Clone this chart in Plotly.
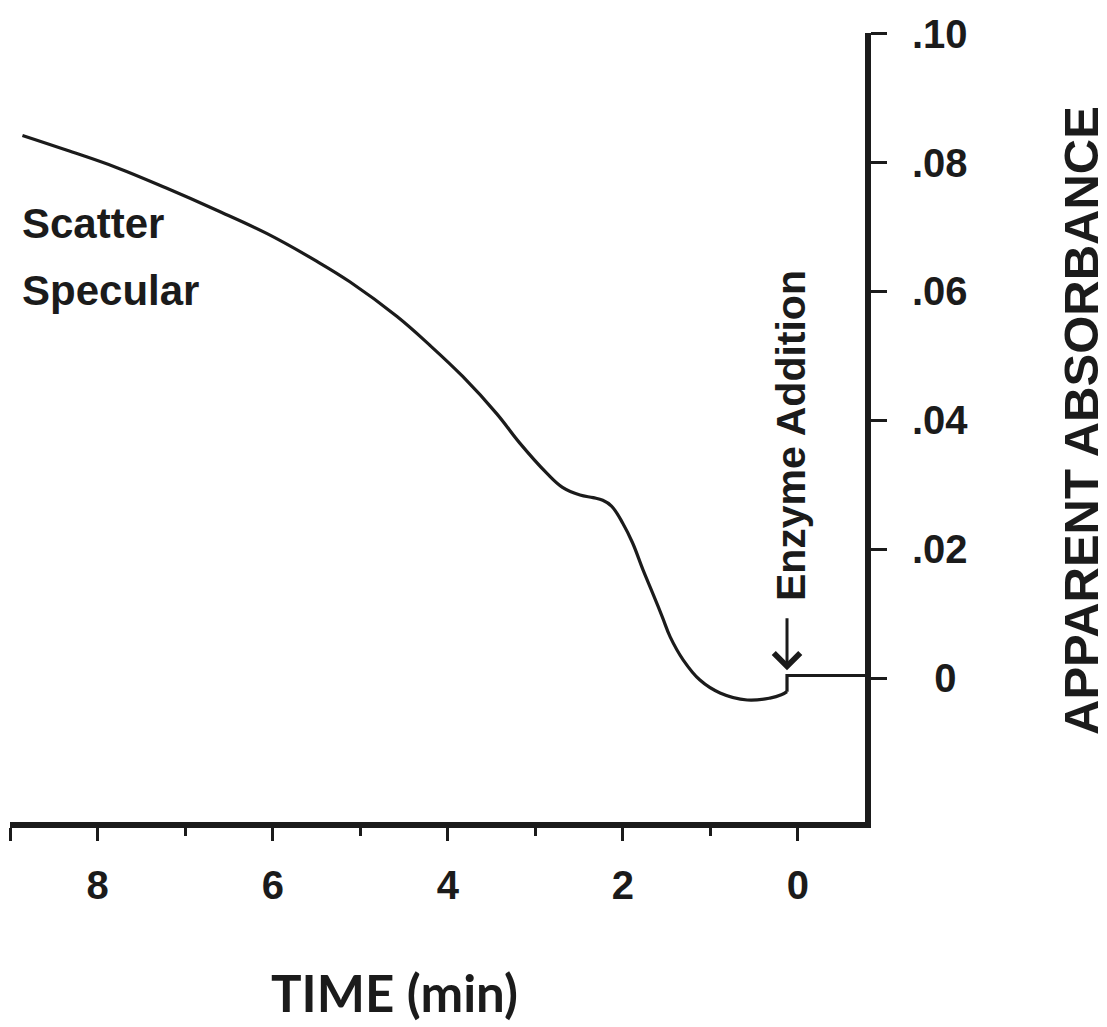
import plotly.graph_objects as go

# ---- data ----
time_min = [8.86, 8.35, 7.78, 7.21, 6.64, 6.07, 5.50, 5.12, 4.58, 4.21, 3.83,
            3.44, 3.18, 2.87, 2.69, 2.49, 2.34, 2.23, 2.13, 2.00, 1.89, 1.77,
            1.66, 1.55, 1.46, 1.31, 1.12, 0.89, 0.58, 0.32, 0.19, 0.125]
absorbance = [0.0842, 0.0819, 0.0792, 0.0760, 0.0726, 0.0690, 0.0647, 0.0615, 0.0561,
              0.0517, 0.0468, 0.0410, 0.0365, 0.0318, 0.0296, 0.0284, 0.0280, 0.0276,
              0.0267, 0.0240, 0.0210, 0.0168, 0.0132, 0.0095, 0.0064, 0.0028,
              -0.0003, -0.0023, -0.0034, -0.0031, -0.0026, -0.0021]
after_time = [0.125, 0.125, -0.80]
after_abs = [-0.0021, 0.0004, 0.0004]

x_major_vals = [0, 2, 4, 6, 8, 9]
x_major_text = ["0", "2", "4", "6", "8", ""]
x_minor_vals = [1, 3, 5, 7]
y_tick_vals = [0, 0.02, 0.04, 0.06, 0.08, 0.10]
y_tick_text = ["\u00a0\u00a00", ".02", ".04", ".06", ".08", ".10"]

enzyme_time = 0.125
enzyme_arrow_tip = 0.0012
enzyme_arrow_tail = 0.0095

INK = "#1b1b1b"
FONT = "Liberation Sans, Arial, sans-serif"

fig = go.Figure()
fig.add_trace(go.Scatter(x=time_min, y=absorbance, mode="lines",
                         line=dict(color=INK, width=3.2, shape="spline", smoothing=1.1),
                         hoverinfo="skip", showlegend=False))
fig.add_trace(go.Scatter(x=after_time, y=after_abs, mode="lines",
                         line=dict(color=INK, width=3.2),
                         hoverinfo="skip", showlegend=False))

fig.update_layout(
    width=1107, height=1027,
    margin=dict(l=10, r=242, t=33, b=205),
    paper_bgcolor="white", plot_bgcolor="white",
    showlegend=False,
)

fig.update_xaxes(
    range=[9.002, -0.766],
    showgrid=False, zeroline=False,
    showline=True, linewidth=6, linecolor=INK,
    tickmode="array", tickvals=x_major_vals, ticktext=x_major_text,
    ticks="outside", ticklen=13, tickwidth=2.5, tickcolor=INK,
    ticklabelstandoff=10,
    tickfont=dict(family=FONT, size=40, color=INK, weight="bold"),
    minor=dict(tickmode="array", tickvals=x_minor_vals, ticks="outside",
               ticklen=8, tickwidth=2.5, tickcolor=INK),
)

fig.update_yaxes(
    side="right",
    range=[-0.02233, 0.1001],
    showgrid=False, zeroline=False,
    showline=True, linewidth=6, linecolor=INK,
    tickmode="array", tickvals=y_tick_vals, ticktext=y_tick_text,
    ticks="outside", ticklen=16, tickwidth=2.5, tickcolor=INK,
    ticklabelstandoff=17,
    tickfont=dict(family=FONT, size=40, color=INK, weight="bold"),
)

annotations = [
    dict(text="APPARENT ABSORBANCE", xref="paper", yref="paper", x=1.2526, y=0.5095,
         xanchor="center", yanchor="middle", textangle=-90, showarrow=False,
         font=dict(family=FONT, size=49, color=INK, weight="bold")),
    dict(text="TIME (min)", xref="paper", yref="paper", x=(394 - 10) / 855, y=-0.2167,
         xanchor="center", yanchor="middle", showarrow=False,
         font=dict(family="Lato, Carlito, sans-serif", size=51, color=INK, weight="bold")),
    dict(text="Scatter", xref="paper", yref="paper", x=0.012, y=0.758,
         xanchor="left", yanchor="middle", showarrow=False,
         font=dict(family=FONT, size=42, color=INK, weight="bold")),
    dict(text="Specular", xref="paper", yref="paper", x=0.012, y=0.674,
         xanchor="left", yanchor="middle", showarrow=False,
         font=dict(family=FONT, size=42, color=INK, weight="bold")),
    dict(text="Enzyme Addition", xref="x", yref="y", x=0.08, y=0.0377,
         xanchor="center", yanchor="middle", textangle=-90, showarrow=False,
         font=dict(family=FONT, size=41, color=INK, weight="bold")),
    dict(text="", xref="x", yref="y", x=enzyme_time, y=enzyme_arrow_tip,
         axref="x", ayref="y", ax=enzyme_time, ay=enzyme_arrow_tail,
         showarrow=True, arrowhead=4, arrowsize=1.7, arrowwidth=3, arrowcolor=INK),
]
fig.update_layout(annotations=annotations)

fig.write_html("out.html")
